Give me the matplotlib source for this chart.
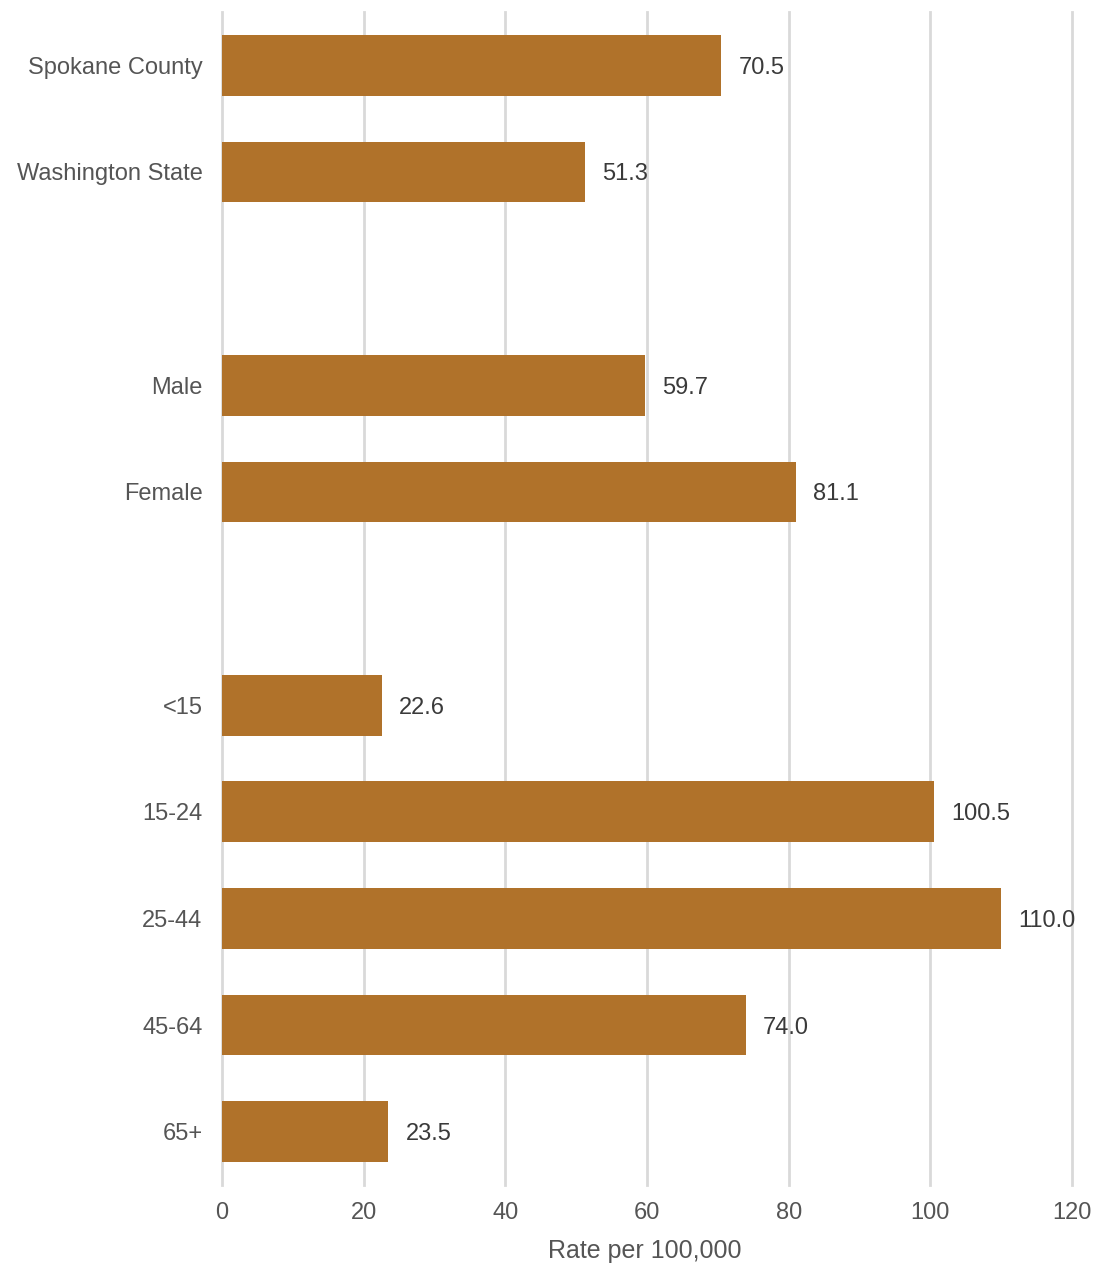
import matplotlib.pyplot as plt

# categories (None = blank spacer slot)
labels = ['Spokane County', 'Washington State', None, 'Male', 'Female', None,
          '<15', '15-24', '25-44', '45-64', '65+']
values = [70.5, 51.3, None, 59.7, 81.1, None, 22.6, 100.5, 110.0, 74.0, 23.5]
xticks = [0, 20, 40, 60, 80, 100, 120]

plt.rcParams['font.family'] = ['Liberation Sans', 'DejaVu Sans']

fig = plt.figure(figsize=(10.98, 12.67), dpi=100)
ax = fig.add_axes([0.2022, 0.0647, 0.7741, 0.9258])

pos = [i for i, v in enumerate(values) if v is not None]
vals = [v for v in values if v is not None]
names = [l for l in labels if l is not None]

ax.barh(pos, vals, height=0.57, color='#B0722A', zorder=3)
for p, v in zip(pos, vals):
    ax.text(v + 2.4, p, f'{v:.1f}', va='center_baseline', ha='left',
            fontsize=17, color='#3a3a3a')

ax.set_ylim(10.5, -0.5)
ax.set_xlim(0, 120)
ax.set_yticks(pos)
ax.set_yticklabels(names, fontsize=17, color='#555555')
ax.set_xticks(xticks)
ax.set_xticklabels([str(t) for t in xticks], fontsize=17, color='#555555')
ax.tick_params(length=0)
ax.tick_params(axis='y', pad=14)
ax.tick_params(axis='x', pad=12)
ax.grid(axis='x', color='#d9d9d9', linewidth=2, zorder=0)
for gl in ax.get_xgridlines():
    gl.set_clip_on(False)
for s in ax.spines.values():
    s.set_visible(False)
fig.text(645 / 1098, 1 - 1251 / 1267, 'Rate per 100,000', fontsize=18,
         color='#555555', ha='center', va='center')

fig.savefig('out.png', dpi=100)
